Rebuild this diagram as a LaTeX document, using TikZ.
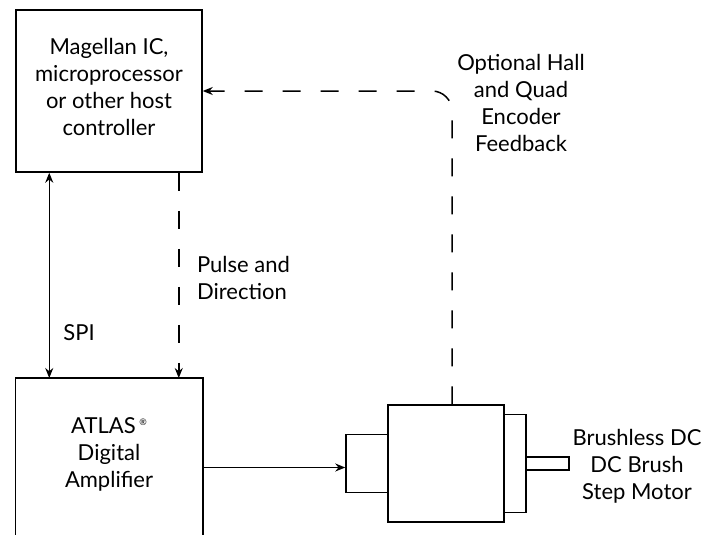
\documentclass[tikz,border=0pt]{standalone}
\usepackage{fontspec}
\setmainfont{Lato}
\usetikzlibrary{positioning,arrows.meta}
\begin{document}
\begin{tikzpicture}[>={Stealth[length=10pt,width=8pt]},line join=miter,x=1pt,y=-1pt,line width=1.5pt,font=\fontsize{22}{27}\selectfont]
	\tikzset{blk/.style={draw,minimum width=186,minimum height=162,align=center,inner sep=0pt},
		part/.style={draw,inner sep=0pt},
		fb/.style={dashed,dash pattern=on 18pt off 20pt}}
	\useasboundingbox (0,0) rectangle (717,535);
	\node[blk,text depth=8pt] (host) at (109,91) {Magellan IC,\\microprocessor\\or other host\\controller};
	\node[blk,draw=none,minimum height=157,anchor=north,text depth=9pt] (amp) at (109,378) {ATLAS\,{\fontsize{9}{9}\selectfont\raisebox{8pt}{®}}\\Digital\\Amplifier};
	\draw (amp.south west)|-(amp.north east)--(amp.south east);
	% motor
	\foreach \nm/\cx/\pw/\ph in {rearcap/367/42/58,body/446/116/117,flange/515/22/98,shaft/547.5/43/13}{
		\node[part,minimum width=\pw,minimum height=\ph] (\nm) at (\cx,463.5) {};
	}
	\node[align=center] (motorlbl) at (637,466) {Brushless DC\\DC Brush\\Step Motor};
	% links
	\draw[<->] ([xshift=34pt]host.south west)--([xshift=34pt]amp.north west)node[pos=.78,right=10pt]{SPI};
	\draw[fb,->] ([xshift=-24pt]host.south east)--([xshift=-24pt]amp.north east);
	\node[align=left,anchor=west] (pulselbl) at (193,278) {Pulse and\\Direction};
	\draw[->] ([yshift=-4pt]rearcap.west-|amp.east)--([yshift=-4pt]rearcap.west);
	\draw[fb,->,rounded corners=20pt] ([xshift=6pt]body.north)|-(host.east);
	\node[align=center] (fblbl) at (521,103) {Optional Hall\\and Quad\\Encoder\\Feedback};
\end{tikzpicture}
\end{document}
